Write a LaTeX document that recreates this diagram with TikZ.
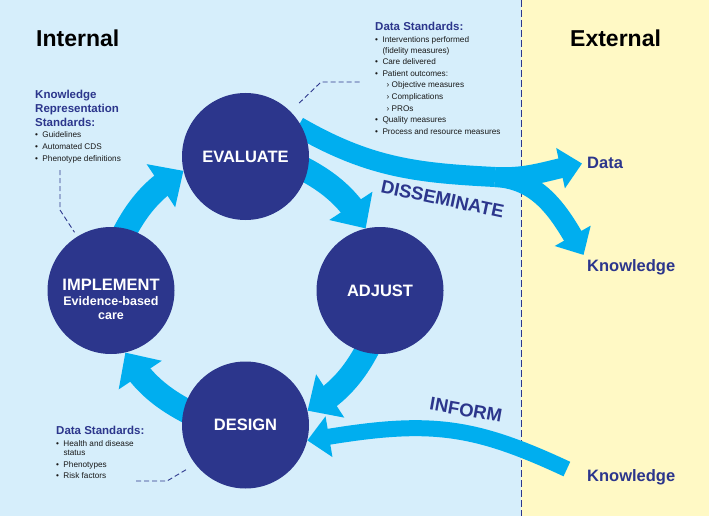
\documentclass[tikz,border=0pt]{standalone}
\usepackage{fontspec}
\setmainfont{Liberation Sans}
\usetikzlibrary{arrows.meta,bending,backgrounds}

\definecolor{navy}{RGB}{44,54,140}
\definecolor{flowblue}{RGB}{0,174,239}
\definecolor{inside}{RGB}{214,238,251}
\definecolor{outside}{RGB}{255,249,197}

\newcommand{\hdr}{\color{navy}\fontsize{11.5}{11.6}\selectfont\bfseries}
\newcommand{\itm}{\makebox[7.3pt][l]{\textbullet}}
\newcommand{\subitm}{\hspace*{11.5pt}\makebox[5pt][l]{›}}

\begin{document}
\begin{tikzpicture}[x=1pt,y=1pt,
    cycle node/.style={circle,fill=navy,minimum size=127pt,inner sep=0pt,
        text=white,font=\fontsize{16.5}{19}\selectfont\bfseries},
    list node/.style={anchor=north west,inner sep=0pt,align=left,
        text=black!90,font=\fontsize{8.2}{11.6}\selectfont},
    side node/.style={anchor=west,inner sep=2pt,
        font=\fontsize{23}{26}\selectfont\bfseries},
    ext node/.style={anchor=west,inner sep=2pt,text=navy,
        font=\fontsize{16.5}{18}\selectfont\bfseries},
    flow label/.style={text=navy,font=\fontsize{18.5}{20}\selectfont\bfseries},
    cycle arrow/.style={draw=flowblue,line width=24pt,shorten <=-6pt,
        -{Triangle[width=50pt,length=27pt]}},
    band/.style={draw=flowblue,line width=20pt},
    band tip/.style={-{Triangle[width=40pt,length=22pt]}},
    leader/.style={draw=navy,line width=0.9pt,dash pattern=on 5pt off 3pt}]

  \useasboundingbox (0,0) rectangle (709,-516);

  % steps of the cycle
  \node[cycle node] (EV) at (245.5,-156.5) {EVALUATE};
  \node[cycle node] (AD) at (380,-290.5) {ADJUST};
  \node[cycle node] (DE) at (245.5,-425) {DESIGN};
  \node[cycle node,label={[text=white,align=center,yshift=-9.2pt,
      font=\fontsize{16.5}{14.5}\selectfont\bfseries]center:{IMPLEMENT\\
      {\fontsize{12.5}{14.5}\selectfont Evidence-based}\\
      {\fontsize{12.5}{14.5}\selectfont care}}}] (IM) at (111,-290.5) {};

  % titles and outside targets
  \node[side node] (INT) at (34,-38) {Internal};
  \node[side node] (EXT) at (568,-38) {External};
  \node[ext node] (DA) at (585,-163) {Data};
  \node[ext node] (KN) at (585,-267.5) {Knowledge};
  \node[ext node] (KI) at (585,-477.5) {Knowledge};
  \node[flow label,rotate=-12] (DIS) at (442.5,-199) {DISSEMINATE};
  \node[flow label,rotate=-10] (INF) at (466,-410) {INFORM};

  % standards
  \node[list node] (DS1) at (375,-21.8) {{\hdr Data Standards:}\\[0.4pt]
    \itm Interventions performed\\[-0.8pt]
    \hspace*{7.3pt}(fidelity measures)\\
    \itm Care delivered\\
    \itm Patient outcomes:\\
    \subitm Objective measures\\
    \subitm Complications\\
    \subitm PROs\\
    \itm Quality measures\\
    \itm Process and resource measures};
  \node[list node] (KRS) at (35,-89.7) {{\hdr Knowledge}\\[2.4pt]
    {\hdr Representation}\\[2.4pt]
    {\hdr Standards:}\\[-0.8pt]
    \itm Guidelines\\[0.4pt]
    \itm Automated CDS\\[0.4pt]
    \itm Phenotype definitions};
  \node[list node] (DS2) at (56,-425.8) {{\hdr Data Standards:}\\[0.4pt]
    \itm Health and disease\\[-2.2pt]
    \hspace*{7.3pt}status\\
    \itm Phenotypes\\
    \itm Risk factors};

  \coordinate (L1) at (321,-82);
  \coordinate (L2) at (362,-82);
  \coordinate (K1) at (60,-170);
  \coordinate (K2) at (60,-210);
  \coordinate (B1) at (136,-481);
  \coordinate (B2) at (167,-481);
  \coordinate (SP) at (495,-177);

  \draw[leader,shorten <=12pt] (EV.45) -- (L1) -- (L2);
  \draw[leader,shorten >=5pt] (K1) -- (K2) -- (IM.122);
  \draw[leader,shorten >=10pt] (B1) -- (B2) -- (DE.218);

  \begin{pgfonlayer}{background}
    \fill[inside] (0,0) rectangle (521,-516);
    \fill[outside] (521,0) rectangle (709,-516);
    \draw[navy,line width=1pt,dash pattern=on 7pt off 3pt] (521,0) -- (521,-516);

    \foreach \src/\dst/\ang [evaluate=\ang as \sang using \ang-103.65,
        evaluate=\ang as \oang using \ang-117.3,
        evaluate=\ang as \dang using \ang+13.65,
        evaluate=\ang as \iang using \ang+27.3]
        in {IM/EV/180,EV/AD/90,AD/DE/0,DE/IM/270}
      \draw[cycle arrow] (\src.\sang) to[out=\oang,in=\iang,looseness=0.87] (\dst.\dang);

    % disseminate
    \draw[band,shorten <=-6pt] (EV.25) to[out=-30,in=177] (SP);
    \draw[band,band tip,shorten >=3pt] (SP) to[out=-3,in=190] (DA.west);
    \draw[band,band tip,shorten >=3pt] (SP) to[out=-3,in=119] (KN.north west);

    % inform
    \draw[band,band tip,line width=16pt,shorten <=20pt] (KI.west)
      .. controls +(155:130) and +(10:120) .. (DE.346);
  \end{pgfonlayer}
\end{tikzpicture}
\end{document}
